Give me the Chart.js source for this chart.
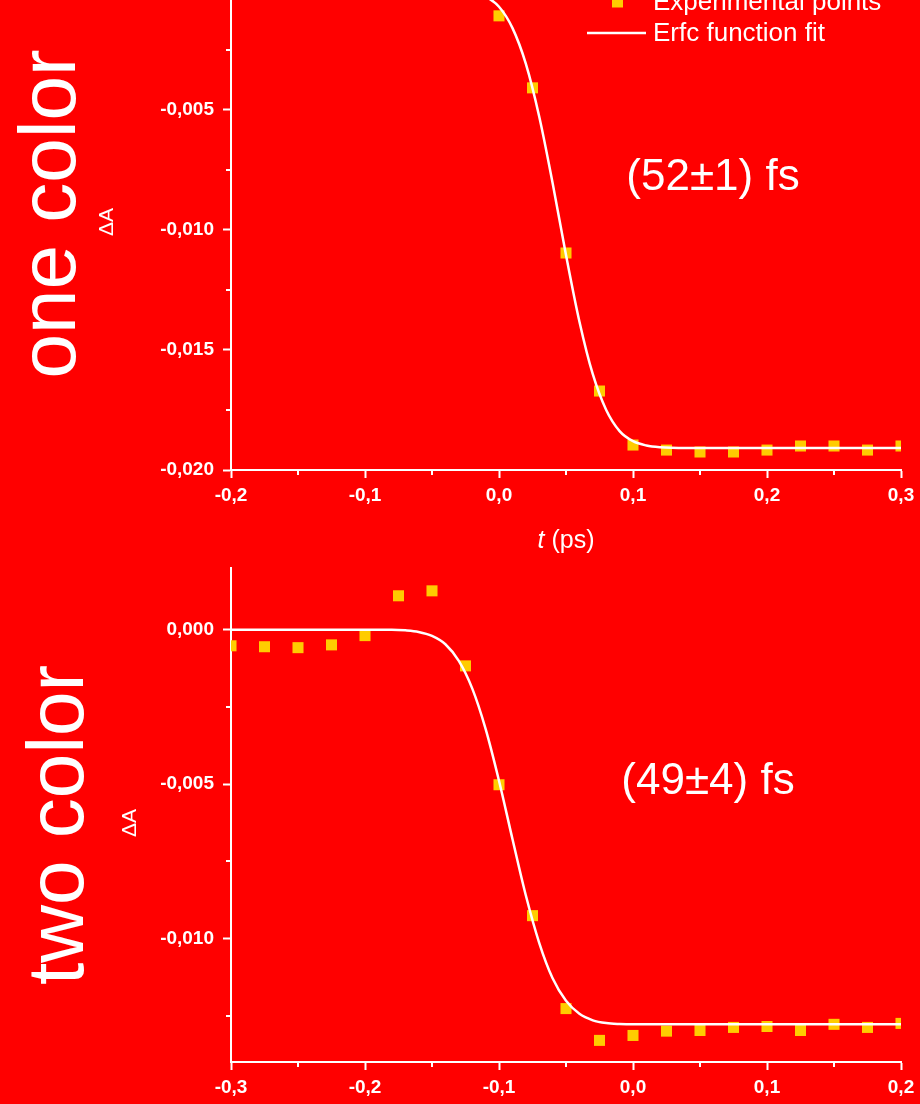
<!DOCTYPE html>
<html>
<head>
<meta charset="utf-8">
<script src="https://cdn.jsdelivr.net/npm/chart.js@4.4.0/dist/chart.umd.min.js"></script>
<style>
  html, body { margin: 0; padding: 0; background: #ff0000; }
  #wrap { position: relative; width: 920px; height: 1104px; overflow: hidden; }
  canvas { position: absolute; left: 0; }
</style>
</head>
<body>
<div id="wrap">
  <!-- shifted up: chart.js keeps ~8px above the plot area, the original is cropped there -->
  <canvas id="oneColor" width="920" height="568" style="top:-8px"></canvas>
  <canvas id="twoColor" width="920" height="544" style="top:560px"></canvas>
</div>
<script>
// one color: measured points
const oneT  = [0, 0.025, 0.05, 0.075, 0.1, 0.125, 0.15, 0.175, 0.2, 0.225, 0.25, 0.275, 0.3];
const oneDA = [-0.00108, -0.00408, -0.01096, -0.01671, -0.01896, -0.01917, -0.01925, -0.01925,
               -0.01917, -0.0190, -0.0190, -0.01917, -0.0190];
// one color: erfc fit
const oneFitT  = [-0.2, -0.1, -0.05, -0.03, -0.02, -0.01, 0, 0.01, 0.02, 0.03, 0.04, 0.05,
                  0.06, 0.07, 0.08, 0.09, 0.1, 0.11, 0.12, 0.14, 0.2, 0.3];
const oneFitDA = [0, 0, 0, -0.00003, -0.0001, -0.00028, -0.0007, -0.00158, -0.00307, -0.00527,
                  -0.00804, -0.01104, -0.01381, -0.01601, -0.0175, -0.01838, -0.0188, -0.01898,
                  -0.01905, -0.01908, -0.01908, -0.01908];
const oneXTicks = [-0.2, -0.1, 0, 0.1, 0.2, 0.3];
const oneXMinor = [-0.15, -0.05, 0.05, 0.15, 0.25];
const oneYTicks = [-0.02, -0.015, -0.01, -0.005];
const oneYMinor = [-0.0175, -0.0125, -0.0075, -0.0025];

// two color: measured points
const twoT  = [-0.3, -0.275, -0.25, -0.225, -0.2, -0.175, -0.15, -0.125, -0.1, -0.075, -0.05,
               -0.025, 0, 0.025, 0.05, 0.075, 0.1, 0.125, 0.15, 0.175, 0.2];
const twoDA = [-0.00052, -0.00055, -0.00058, -0.00049, -0.00019, 0.0011, 0.00126, -0.00117,
               -0.00502, -0.00926, -0.01227, -0.0133, -0.01314, -0.0130, -0.01298, -0.01288,
               -0.01285, -0.01298, -0.01278, -0.01288, -0.01275];
// two color: erfc fit
const twoFitT  = [-0.3, -0.2, -0.18, -0.17, -0.16, -0.15, -0.14, -0.13, -0.12, -0.11, -0.1,
                  -0.09, -0.08, -0.07, -0.06, -0.05, -0.04, -0.03, -0.02, -0.01, 0, 0.1, 0.2];
const twoFitDA = [0, 0, 0, -0.00002, -0.00007, -0.0002, -0.00047, -0.00101, -0.0019, -0.00321,
                  -0.00489, -0.00677, -0.0086, -0.01014, -0.01129, -0.01202, -0.01244, -0.01265,
                  -0.01274, -0.01277, -0.01278, -0.01278, -0.01278];
const twoXTicks = [-0.3, -0.2, -0.1, 0, 0.1, 0.2];
const twoXMinor = [-0.25, -0.15, -0.05, 0.05, 0.15];
const twoYTicks = [-0.01, -0.005, 0];
const twoYMinor = [-0.0125, -0.0075, -0.0025];

const FONT = '"Liberation Sans", Arial, sans-serif';
const YELLOW = '#ffcc00';

function pts(xs, ys) {
    return xs.map(function(x, i) { return {x: x, y: ys[i]}; });
}
function fmt(v, d) {
    if (Math.abs(v) < 1e-9) v = 0;
    return v.toFixed(d).replace('.', ',');
}

// draws what the library has no option for: minor ticks, side labels, legend, fit result
const decorPlugin = {
    id: 'decor',
    afterDraw(chart, args, o) {
        const ctx = chart.ctx;
        const xs = chart.scales.x, ys = chart.scales.y;
        ctx.save();
        ctx.strokeStyle = '#fff';
        ctx.lineWidth = 2;
        o.minorX.forEach(function(v) {
            const px = Math.round(xs.getPixelForValue(v));
            ctx.beginPath(); ctx.moveTo(px, xs.top); ctx.lineTo(px, xs.top + 5); ctx.stroke();
        });
        o.minorY.forEach(function(v) {
            const py = Math.round(ys.getPixelForValue(v));
            ctx.beginPath(); ctx.moveTo(ys.right, py); ctx.lineTo(ys.right - 5, py); ctx.stroke();
        });

        ctx.fillStyle = '#fff';
        // big rotated label
        ctx.save();
        ctx.translate(o.side.x, o.side.y);
        ctx.rotate(-Math.PI / 2);
        ctx.font = '80px ' + FONT;
        ctx.textAlign = 'center';
        ctx.textBaseline = 'alphabetic';
        ctx.fillText(o.side.text, 0, 0);
        ctx.restore();
        // y title
        ctx.save();
        ctx.translate(o.yTitle.x, o.yTitle.y);
        ctx.rotate(-Math.PI / 2);
        ctx.font = '21px ' + FONT;
        ctx.textAlign = 'center';
        ctx.fillText('ΔA', 0, 0);
        ctx.restore();

        // fit result
        ctx.font = '44px ' + FONT;
        ctx.textAlign = 'center';
        ctx.textBaseline = 'middle';
        ctx.fillText(o.note.text, o.note.x, o.note.y);

        if (o.xTitle) {
            ctx.textAlign = 'left';
            ctx.font = 'italic 25px ' + FONT;
            const w1 = ctx.measureText('t').width;
            ctx.font = '25px ' + FONT;
            const w2 = ctx.measureText(' (ps)').width;
            let x0 = o.xTitle.x - (w1 + w2) / 2;
            ctx.font = 'italic 25px ' + FONT;
            ctx.fillText('t', x0, o.xTitle.y);
            ctx.font = '25px ' + FONT;
            ctx.fillText(' (ps)', x0 + w1, o.xTitle.y);
        }

        if (o.legend) {
            const L = o.legend;
            ctx.font = '26px ' + FONT;
            ctx.textAlign = 'left';
            ctx.textBaseline = 'middle';
            ctx.fillStyle = YELLOW;
            ctx.fillRect(L.x + 25, L.y - 5.5, 11, 11);
            ctx.fillStyle = '#fff';
            ctx.fillText('Experimental points', L.x + 66, L.y + 1);
            ctx.beginPath();
            ctx.lineWidth = 2.5;
            ctx.moveTo(L.x, L.y + 31); ctx.lineTo(L.x + 59, L.y + 31); ctx.stroke();
            ctx.fillText('Erfc function fit', L.x + 66, L.y + 32);
        }
        ctx.restore();
    }
};

function makeChart(id, cfg) {
    const tickFont = {family: FONT, size: 19, weight: 'bold'};
    return new Chart(document.getElementById(id), {
        type: 'scatter',
        data: {
            datasets: [{
                label: 'Erfc function fit',
                data: pts(cfg.fitT, cfg.fitDA),
                showLine: true,
                borderColor: '#ffffff',
                borderWidth: 2.5,
                pointRadius: 0,
                cubicInterpolationMode: 'monotone',
                order: 0
            }, {
                label: 'Experimental points',
                data: pts(cfg.t, cfg.dA),
                pointStyle: 'rect',
                pointRadius: 7.8,
                pointBorderWidth: 0,
                backgroundColor: YELLOW,
                borderColor: YELLOW,
                order: 1
            }]
        },
        options: {
            responsive: false,
            animation: false,
            devicePixelRatio: 1,
            layout: {padding: {left: 0, right: 19, top: cfg.padTop, bottom: 0}},
            plugins: {
                legend: {display: false},
                tooltip: {enabled: false},
                decor: cfg.decor
            },
            scales: {
                x: {
                    type: 'linear',
                    min: cfg.xMin, max: cfg.xMax,
                    afterBuildTicks: function(axis) { axis.ticks = cfg.xTicks.map(function(v) { return {value: v}; }); },
                    afterFit: function(axis) { axis.height = cfg.xHeight; axis.paddingLeft = 0; axis.paddingRight = 0; },
                    border: {color: '#fff', width: 2},
                    grid: {drawOnChartArea: false, drawTicks: true, tickLength: 8, tickColor: '#fff', tickWidth: 2},
                    ticks: {color: '#fff', font: tickFont, padding: 6, autoSkip: false, maxRotation: 0,
                            callback: function(v) { return fmt(v, 1); }}
                },
                y: {
                    type: 'linear',
                    min: cfg.yMin, max: cfg.yMax,
                    afterBuildTicks: function(axis) { axis.ticks = cfg.yTicks.map(function(v) { return {value: v}; }); },
                    afterFit: function(axis) { axis.width = 231; axis.paddingTop = 0; axis.paddingBottom = 0; },
                    border: {color: '#fff', width: 2},
                    grid: {drawOnChartArea: false, drawTicks: true, tickLength: 8, tickColor: '#fff', tickWidth: 2},
                    ticks: {color: '#fff', font: tickFont, padding: 9,
                            callback: function(v) { return fmt(v, 3); }}
                }
            }
        },
        plugins: [decorPlugin]
    });
}

makeChart('oneColor', {
    t: oneT, dA: oneDA, fitT: oneFitT, fitDA: oneFitDA,
    xMin: -0.2, xMax: 0.3, yMin: -0.02, yMax: -0.00042,
    xTicks: oneXTicks, yTicks: oneYTicks, xHeight: 90, padTop: 8,
    decor: {
        minorX: oneXMinor, minorY: oneYMinor,
        side: {text: 'one color', x: 75, y: 214 + 8},
        yTitle: {x: 113, y: 222 + 8},
        note: {text: '(52±1) fs', x: 713, y: 178 + 8},
        xTitle: {x: 566, y: 541 + 8},
        legend: {x: 587, y: 2 + 8}
    }
});

makeChart('twoColor', {
    t: twoT, dA: twoDA, fitT: twoFitT, fitDA: twoFitDA,
    xMin: -0.3, xMax: 0.2, yMin: -0.014, yMax: 0.002,
    xTicks: twoXTicks, yTicks: twoYTicks, xHeight: 42, padTop: 8,
    decor: {
        minorX: twoXMinor, minorY: twoYMinor,
        side: {text: 'two color', x: 83, y: 825 - 560},
        yTitle: {x: 136, y: 263},
        note: {text: '(49±4) fs', x: 708, y: 222},
        xTitle: null,
        legend: null
    }
});
</script>
</body>
</html>
